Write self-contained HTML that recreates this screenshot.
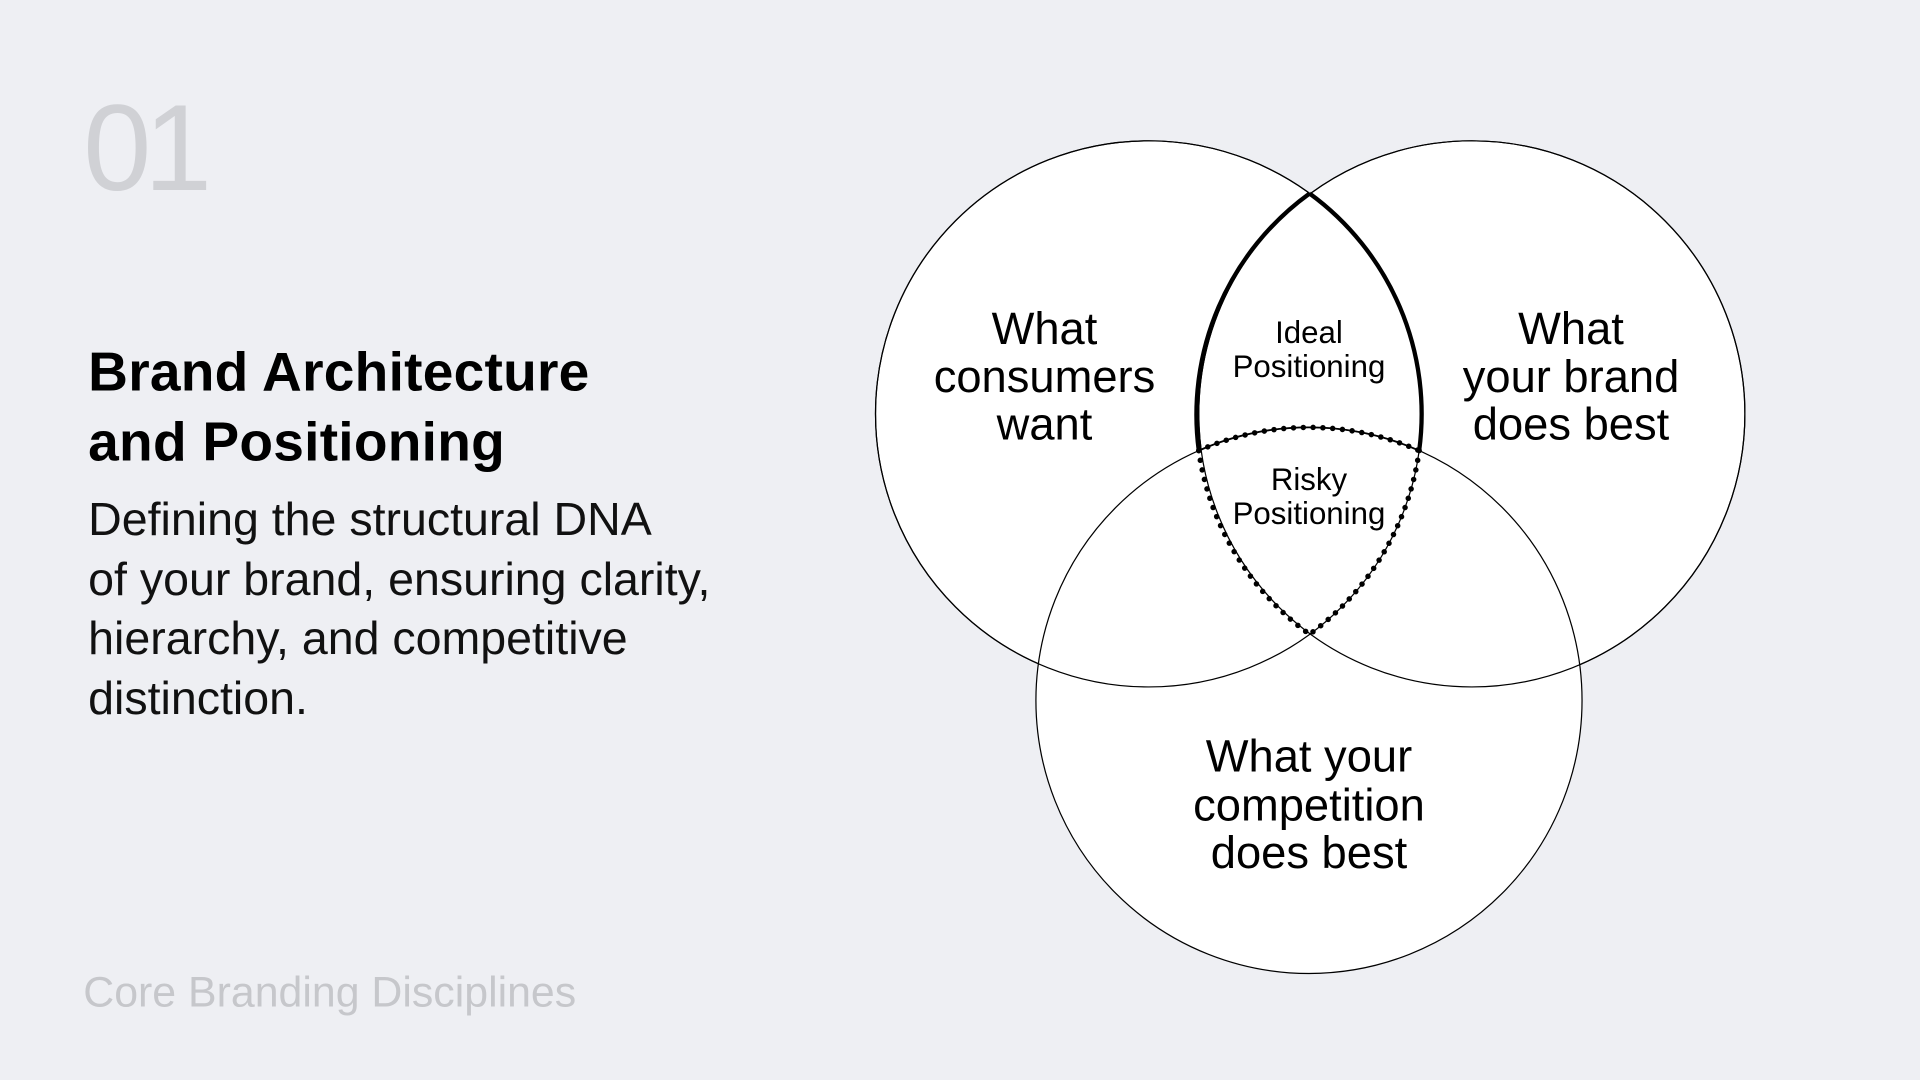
<!DOCTYPE html>
<html><head><meta charset="utf-8">
<style>
html,body{margin:0;padding:0;background:#eeeff3;}
svg{display:block;}
text{font-family:"Liberation Sans",Arial,sans-serif;}
</style></head>
<body>
<svg width="1920" height="1080" viewBox="0 0 1568 882" xmlns="http://www.w3.org/2000/svg">
<rect width="1568" height="882" fill="#eeeff3"/>
<text x="68" y="155" font-size="100" fill="#d0d1d5" letter-spacing="-6">01</text>
<text x="72" y="319" font-size="45" font-weight="bold" fill="#000" letter-spacing="0.2">Brand Architecture</text>
<text x="72" y="376" font-size="45" font-weight="bold" fill="#000" letter-spacing="0.2">and Positioning</text>
<g font-size="38" fill="#111">
<text x="72" y="437">Defining the structural DNA</text>
<text x="72" y="486">of your brand, ensuring clarity,</text>
<text x="72" y="534">hierarchy, and competitive</text>
<text x="72" y="583">distinction.</text>
</g>
<text x="68" y="822" font-size="35" fill="#c6c7cb">Core Branding Disciplines</text>

<g fill="#fff" stroke="#000" stroke-width="1">
<circle cx="938" cy="338" r="223"/>
<circle cx="1202" cy="338" r="223"/>
<circle cx="1069" cy="572" r="223"/>
</g>
<g fill="none" stroke="#000" stroke-width="1">
<circle cx="938" cy="338" r="223"/>
<circle cx="1202" cy="338" r="223"/>
</g>
<g fill="none" stroke="#000" stroke-width="3.5">
<path d="M1069.5,158 A223,223 0 0,0 979,368"/>
<path d="M1069.5,158 A223,223 0 0,1 1159,368"/>
</g>
<path d="M979,368 A223,223 0 0,1 1159,368" fill="none" stroke="#000" stroke-width="1.5"/>
<g fill="none" stroke="#000" stroke-width="4.5" stroke-linecap="round" stroke-dasharray="0 8">
<path d="M979,368 A223,223 0 0,1 1159,368"/>
<path d="M979,368 A223,223 0 0,0 1069.5,518"/>
<path d="M1159,368 A223,223 0 0,1 1069.5,518"/>
</g>

<g font-size="37" fill="#000" text-anchor="middle">
<text x="853" y="281">What</text>
<text x="853" y="320">consumers</text>
<text x="853" y="359">want</text>
<text x="1283" y="281">What</text>
<text x="1283" y="320">your brand</text>
<text x="1283" y="359">does best</text>
<text x="1069" y="630">What your</text>
<text x="1069" y="670">competition</text>
<text x="1069" y="709">does best</text>
</g>
<g font-size="25.5" fill="#000" text-anchor="middle">
<text x="1069" y="280">Ideal</text>
<text x="1069" y="308">Positioning</text>
<text x="1069" y="400">Risky</text>
<text x="1069" y="428">Positioning</text>
</g>
</svg>
</body></html>
